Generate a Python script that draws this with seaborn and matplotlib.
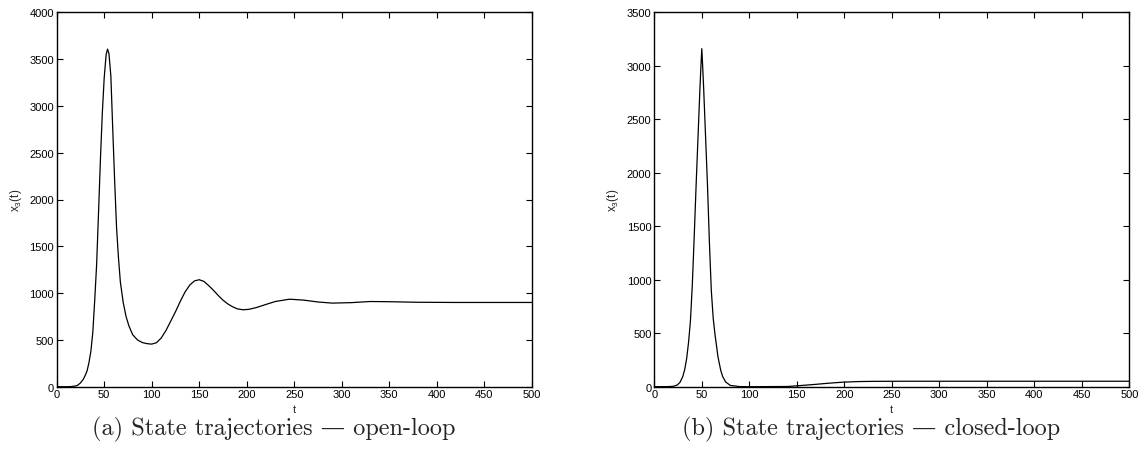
import matplotlib
matplotlib.use("Agg")
import matplotlib.pyplot as plt
import seaborn as sns
import pandas as pd

# ---- data ----
t_open = [0, 10, 15, 20, 22, 25, 28, 30, 32, 34, 36, 38, 40, 42, 44, 46, 48, 50, 52, 53.5,
          55, 57, 59, 61, 63, 65, 67, 70, 73, 76, 80, 85, 90, 95, 100, 105, 110, 115, 120,
          125, 130, 135, 140, 145, 150, 155, 160, 165, 170, 175, 180, 185, 190, 196, 202,
          210, 220, 230, 245, 260, 275, 290, 310, 330, 350, 380, 420, 460, 500]
x3_open = [0, 0, 1, 8, 15, 40, 80, 120, 170, 260, 380, 580, 920, 1300, 1850, 2420, 2920, 3300, 3545, 3607,
           3560, 3320, 2750, 2200, 1700, 1380, 1120, 900, 750, 650, 555, 500, 472, 460, 455, 470, 520, 600, 700,
           800, 910, 1010, 1085, 1130, 1143, 1125, 1080, 1030, 975, 925, 885, 855, 832, 822, 826,
           845, 878, 910, 935, 925, 905, 893, 898, 910, 908, 902, 900, 900, 900]

t_closed = [0, 15, 20, 24, 27, 30, 32, 34, 36, 38, 40, 42, 44, 46, 48, 49, 50, 51, 52, 54, 56, 58,
            60, 62, 64, 65, 67, 70, 72, 75, 80, 90, 100, 140, 150, 160, 170, 180, 190, 200, 215,
            230, 260, 300, 400, 500]
x3_closed = [0, 1, 4, 15, 40, 95, 160, 260, 410, 610, 950, 1400, 1880, 2330, 2780, 2980, 3160, 2980, 2780, 2330, 1880, 1350,
             900, 640, 480, 415, 280, 150, 95, 45, 12, 1, 0, 2, 8, 15, 22, 30, 37, 43, 48,
             50, 51, 51, 51, 51]

x_ticks = [0, 50, 100, 150, 200, 250, 300, 350, 400, 450, 500]
y_ticks_open = [0, 500, 1000, 1500, 2000, 2500, 3000, 3500, 4000]
y_ticks_closed = [0, 500, 1000, 1500, 2000, 2500, 3000, 3500]
captions = ["(a) State trajectories \u2014 open-loop", "(b) State trajectories \u2014 closed-loop"]

sns.set_theme(style="ticks")
plt.rcParams["font.family"] = ["Liberation Sans", "DejaVu Sans"]
plt.rcParams["mathtext.fontset"] = "custom"
plt.rcParams["mathtext.rm"] = "Liberation Sans"
plt.rcParams["mathtext.it"] = "Liberation Sans"

fig = plt.figure(figsize=(11.45, 4.6), dpi=100)
W, H = 1145, 460
ax_w = 475 / W
ax_b = (H - 387.7) / H
ax_h = (387.7 - 13.3) / H
axes = [fig.add_axes([56.7 / W, ax_b, ax_w, ax_h]),
        fig.add_axes([654.3 / W, ax_b, ax_w, ax_h])]

datasets = [(t_open, x3_open, y_ticks_open), (t_closed, x3_closed, y_ticks_closed)]
cap_x = [274 / W, 871 / W]

for ax, (tt, yy, yt), cap, cx in zip(axes, datasets, captions, cap_x):
    df = pd.DataFrame({"t": tt, "x3": yy})
    sns.lineplot(data=df, x="t", y="x3", ax=ax, color="black", linewidth=0.9)
    ax.set_xlim(0, 500)
    ax.set_ylim(yt[0], yt[-1])
    ax.set_xticks(x_ticks)
    ax.set_yticks(yt)
    ax.tick_params(direction="in", top=True, right=True, length=4, width=0.8,
                   labelsize=8, pad=2, colors="black")
    for s in ax.spines.values():
        s.set_linewidth(1.0)
        s.set_color("black")
    ax.set_xlabel("t", fontsize=8, labelpad=3.5)
    ax.set_ylabel(r"x$_3$(t)", fontsize=8.5, labelpad=4)
    fig.text(cx, (H - 429) / H, cap, ha="center", va="center",
             fontsize=17.5, family=["cmr10", "DejaVu Serif"])

fig.savefig("out.png", dpi=100, facecolor="white")
